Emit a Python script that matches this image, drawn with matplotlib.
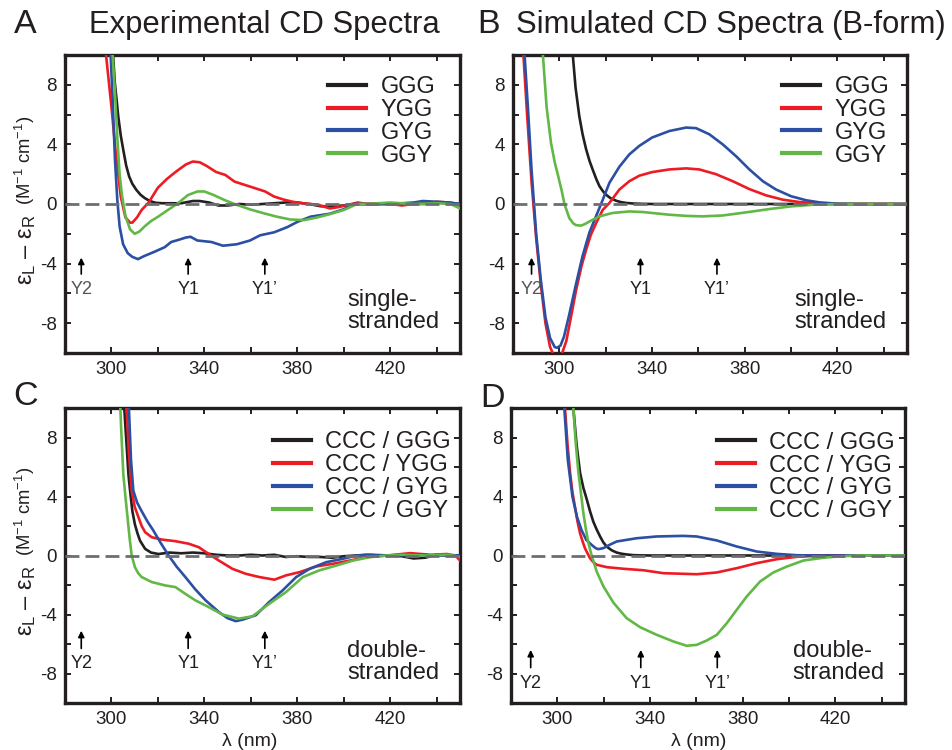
import matplotlib
matplotlib.use("Agg")
import matplotlib.pyplot as plt
from matplotlib.ticker import FixedLocator

plt.rcParams['font.family'] = ['Liberation Sans', 'DejaVu Sans']
plt.rcParams['mathtext.fontset'] = 'custom'
plt.rcParams['mathtext.rm'] = 'Liberation Sans'
plt.rcParams['mathtext.it'] = 'Liberation Sans'
plt.rcParams['axes.unicode_minus'] = False

# ---- data (wavelength nm, delta epsilon) ----
# A: experimental, single-stranded
A_GGG_x = [300, 300.7, 301.4, 302.2, 302.9, 304, 305, 306.3, 307.6, 309, 310.7, 312.5, 314.3, 316.5, 319, 322,
           325, 330, 335, 338, 342, 346, 350, 355, 360, 365, 370, 375, 380, 385, 390, 395, 400, 405, 410, 420,
           430, 440, 445, 450]
A_GGG_y = [12, 10, 8.2, 7.0, 5.9, 4.6, 3.7, 2.6, 1.85, 1.35, 0.95, 0.62, 0.4, 0.2, 0.08, 0.05, 0.05, 0.05, 0.2,
           0.2, 0.1, -0.1, -0.1, 0.0, -0.05, 0.0, 0.05, 0.1, 0.1, 0.0, -0.15, -0.15, -0.1, 0.0, 0.0, 0.0, 0.0, 0.1,
           0.1, 0.0]
A_YGG_x = [297, 298, 300, 302, 304, 306, 308, 309, 311, 313, 316, 320, 324, 328, 332, 335, 338, 341, 345, 349,
           353, 357, 362, 366, 370, 374, 378, 382, 386, 390, 394, 398, 402, 406, 410, 415, 420, 425, 430, 435,
           440, 445, 450]
A_YGG_y = [11, 9.5, 6.5, 3.2, 0.5, -0.9, -1.25, -1.25, -0.9, -0.4, 0.1, 1.1, 1.7, 2.2, 2.65, 2.85, 2.8, 2.55,
           2.15, 1.95, 1.5, 1.3, 1.05, 0.85, 0.5, 0.3, 0.15, 0.05, 0.0, -0.1, -0.3, -0.2, -0.05, 0.1, 0.0, 0.05,
           0.0, -0.1, 0.0, 0.0, 0.15, 0.1, -0.1]
A_GYG_x = [299.5, 300.5, 301.5, 302.5, 303.5, 305, 307, 309, 311.4, 314, 318.6, 322.9, 325.7, 329, 332, 334, 337,
           343, 348, 354, 359.6, 364, 370, 375.7, 380, 385.7, 394, 400, 404, 410, 420, 430, 434, 440, 445, 450]
A_GYG_y = [10.5, 7, 3, 0.3, -1.5, -2.7, -3.3, -3.55, -3.7, -3.5, -3.2, -2.9, -2.55, -2.4, -2.25, -2.2, -2.45,
           -2.55, -2.8, -2.7, -2.45, -2.1, -1.9, -1.55, -1.2, -0.85, -0.65, -0.35, 0.0, 0.0, 0.0, 0.1, 0.2, 0.15,
           0.1, 0.0]
A_GGY_x = [300.3, 301.5, 302.5, 303.5, 304.5, 306, 308, 310, 312, 314.3, 317, 320, 324.3, 328.6, 332.9, 337, 340,
           344, 348.6, 352.9, 359.6, 365.7, 371.4, 377, 382.9, 388.6, 394, 400, 405.7, 410, 415, 420, 425, 430,
           440, 446, 450]
A_GGY_y = [10.5, 7.5, 4.5, 2.0, 0.6, -0.8, -1.7, -2.0, -1.85, -1.5, -1.15, -0.86, -0.4, 0.05, 0.6, 0.84, 0.84,
           0.6, 0.27, 0.0, -0.36, -0.63, -0.86, -1.04, -1.08, -0.9, -0.68, -0.4, 0.0, 0.0, 0.05, 0.1, 0.05, 0.0,
           0.05, 0.0, -0.3]

# B: simulated, single-stranded
B_GGG_x = [304, 305.8, 307, 308.6, 310, 311.5, 313, 314.4, 316, 317.3, 318.7, 320.1, 322, 324.5, 326.5, 328.8,
           332, 336, 340, 450]
B_GGG_y = [13, 10, 7.8, 5.9, 4.7, 3.7, 2.9, 2.3, 1.65, 1.2, 0.88, 0.63, 0.4, 0.22, 0.13, 0.07, 0.03, 0.01, 0.0, 0.0]
B_YGG_x = [283.5, 284.5, 286, 288, 290, 292, 294, 296, 298, 299.5, 301, 303, 305, 307.2, 309.5, 311.5, 313.5,
           315.8, 318.7, 321.6, 325.9, 330.2, 334.5, 340, 347.5, 354.7, 360.4, 367.6, 374.8, 382, 389.2, 396.4,
           403.6, 410.8, 420, 450]
B_YGG_y = [12, 10, 6.2, 1.5, -2.3, -5.4, -8.0, -9.6, -10.3, -10.4, -10.1, -9.2, -7.6, -5.8, -4.2, -3.1, -2.1,
           -1.3, -0.4, 0.07, 0.97, 1.53, 1.9, 2.14, 2.32, 2.39, 2.32, 2.0, 1.53, 1.0, 0.58, 0.29, 0.13, 0.05, 0.0, 0.0]
B_GYG_x = [284, 285, 286.5, 288, 290, 292, 294, 296, 298, 299, 300.5, 302, 304.3, 307, 310, 313, 315.8, 318,
           321.6, 325.9, 330.2, 334.5, 340, 347.5, 354.7, 359, 364.7, 370.5, 376.3, 382, 387.8, 393.5, 400,
           406.5, 412.2, 419.9, 430, 450]
B_GYG_y = [12, 10, 6.3, 2.3, -2.0, -5.1, -7.6, -9.0, -9.6, -9.65, -9.5, -8.9, -7.4, -5.5, -3.5, -1.9, -0.83,
           0.0, 1.42, 2.5, 3.33, 3.9, 4.46, 4.9, 5.13, 5.09, 4.68, 4.0, 3.2, 2.32, 1.53, 0.97, 0.52, 0.25, 0.11,
           0.02, 0.0, 0.0]
B_GGY_x = [292, 293, 294.5, 296.4, 298, 299.3, 301, 302.2, 304.3, 306, 307.2, 309.4, 311, 313, 317.3, 323, 330.2,
           336, 347.5, 355, 361.9, 370.5, 380.6, 390.6, 400, 409.4, 420, 450]
B_GGY_y = [12, 9.8, 6.5, 4.1, 2.8, 2.0, 0.9, 0.0, -0.95, -1.3, -1.42, -1.45, -1.35, -1.17, -0.83, -0.6, -0.5,
           -0.54, -0.72, -0.8, -0.83, -0.77, -0.56, -0.34, -0.16, -0.05, 0.0, 0.0]

# C: experimental, double-stranded
C_GGG_x = [304.5, 305.5, 306.5, 307.3, 308, 309, 310.1, 311.2, 312.3, 314.5, 317, 320.2, 325, 330, 335, 340, 345,
           350, 355, 360, 365, 370, 375, 380, 385, 390, 395, 400, 405, 410, 415, 420, 425, 430, 435, 440, 445, 450]
C_GGG_y = [12, 10, 7.5, 5.5, 4.4, 3.0, 2.1, 1.5, 1.0, 0.45, 0.2, 0.1, 0.2, 0.15, 0.2, 0.15, 0.05, 0.0, 0.0,
           0.05, 0.0, 0.05, -0.1, -0.05, -0.1, -0.1, -0.15, -0.05, 0.0, 0.05, 0.0, 0.0, -0.05, -0.2, -0.15, 0.05,
           0.0, 0.0]
C_YGG_x = [305.5, 306.5, 307.5, 308.7, 310, 311.6, 313, 314.5, 317.3, 321.7, 327.5, 333.2, 337.6, 341.9, 346.2,
           352, 357.8, 363.6, 370.1, 375.1, 380.9, 388.2, 395.4, 402.6, 409.8, 418.5, 428.6, 437.3, 444.5, 448, 450]
C_YGG_y = [12, 10, 7, 4.4, 3.3, 2.6, 2.0, 1.58, 1.24, 1.08, 0.97, 0.8, 0.56, 0.1, -0.34, -0.9, -1.24, -1.46,
           -1.64, -1.35, -1.13, -0.74, -0.56, -0.34, -0.11, 0.0, 0.16, 0.05, 0.1, 0.0, -0.34]
C_GYG_x = [306.5, 307.5, 308.4, 309.4, 311, 313, 315.5, 318, 321, 324.6, 328, 331.8, 336.1, 340.5, 346.2, 350,
           353.5, 356.4, 362.1, 367.9, 373.7, 379.5, 385.3, 392.5, 399.7, 405.5, 412, 420, 430, 440, 450]
C_GYG_y = [12, 10, 6.5, 4.4, 3.6, 3.0, 2.3, 1.7, 0.9, 0.0, -0.75, -1.46, -2.3, -3.04, -3.83, -4.25, -4.45,
           -4.35, -4.05, -3.15, -2.36, -1.46, -0.9, -0.45, -0.22, 0.0, 0.05, 0.0, 0.05, 0.0, 0.0]
C_GGY_x = [303.3, 304.2, 305.1, 306, 306.9, 307.8, 308.7, 310.1, 311.5, 313, 317.3, 323.1, 327.5, 331.8, 336.1,
           341.9, 347.7, 354.9, 360.7, 367.9, 375.1, 382.4, 389.6, 396.8, 404, 411.3, 418.5, 425, 435, 445, 450]
C_GGY_y = [12, 8.5, 5.5, 4.0, 2.6, 1.2, 0.0, -0.79, -1.2, -1.46, -1.8, -2.03, -2.14, -2.6, -3.04, -3.5, -4.0,
           -4.28, -4.12, -3.27, -2.48, -1.46, -1.0, -0.68, -0.34, -0.11, 0.0, 0.05, 0.0, 0.05, -0.1]

# D: simulated, double-stranded
D_GGG_x = [305.5, 306.9, 308.3, 309.8, 311.2, 312.7, 314.1, 315.5, 317, 318.4, 319.8, 321.3, 323.5, 325.6, 327.7,
           329.9, 333, 340, 450]
D_GGG_y = [12.5, 10, 7.5, 5.6, 4.6, 3.8, 3.0, 2.3, 1.75, 1.3, 0.9, 0.6, 0.35, 0.2, 0.12, 0.07, 0.02, 0.0, 0.0]
D_YGG_x = [302.5, 303.3, 304.4, 305.5, 306.5, 307.6, 308.7, 309.8, 310.9, 311.9, 313, 314.1, 315.5, 317, 321.3,
           328.5, 337.1, 345.8, 354.4, 360.1, 368.8, 377.4, 386, 394.7, 403.3, 411.9, 420, 450]
D_YGG_y = [12, 10, 7.5, 5.6, 4.3, 3.3, 2.3, 1.5, 0.95, 0.5, 0.15, -0.18, -0.45, -0.63, -0.79, -0.9, -1.0, -1.2,
           -1.24, -1.27, -1.15, -0.86, -0.52, -0.25, -0.09, -0.02, 0.0, 0.0]
D_GYG_x = [302.2, 303, 304.5, 306.5, 308.5, 310.5, 312.5, 314.8, 316.5, 317.7, 319.9, 322.5, 325.6, 334.2, 342.9,
           354.4, 360.1, 368.8, 377.4, 386, 394.7, 403.3, 410, 450]
D_GYG_y = [12, 10, 6.5, 4.0, 2.6, 1.7, 1.05, 0.72, 0.5, 0.43, 0.5, 0.72, 0.95, 1.17, 1.29, 1.33, 1.29, 1.02,
           0.61, 0.27, 0.11, 0.02, 0.0, 0.0]
D_GGY_x = [305.5, 306.9, 308, 309.1, 310.2, 311.2, 312.3, 313.4, 314.8, 317, 319.9, 324.2, 329.9, 335.7, 342.9,
           350.1, 355.8, 360.1, 364.5, 368.8, 373.1, 377.4, 381.7, 387.5, 393.2, 399, 406.2, 413.4, 420.6, 430, 450]
D_GGY_y = [12.5, 10, 7.5, 5.6, 4.2, 2.9, 1.8, 0.84, 0.0, -1.1, -2.1, -3.2, -4.25, -4.86, -5.38, -5.83, -6.12,
           -6.06, -5.76, -5.38, -4.59, -3.68, -2.78, -1.76, -1.15, -0.75, -0.34, -0.18, -0.07, 0.0, 0.0]

ss_labels = ['GGG', 'YGG', 'GYG', 'GGY']
ds_labels = ['CCC / GGG', 'CCC / YGG', 'CCC / GYG', 'CCC / GGY']
peak_names = ['Y2', 'Y1', 'Y1\u2019']
peaks_A = [287, 333, 366]
peaks_B = [288, 335, 368]
peaks_C = [287, 333, 366]
peaks_D = [288.5, 336, 369]

colors = ['#231f20', '#ed1c24', '#2b4fa3', '#62b846']
ink = '#231f20'

fig = plt.figure(figsize=(9.52, 7.5), dpi=100)
W, H = 952.0, 750.0


def make_ax(l, t, r, b):
    return fig.add_axes([l / W, 1 - b / H, (r - l) / W, (b - t) / H])


axA = make_ax(65, 55, 460, 353)
axB = make_ax(513, 55, 907, 353)
axC = make_ax(65, 408, 460, 703)
axD = make_ax(511, 408, 905, 703)


def draw_panel(ax, series, labels, peaks, arrow_y, note, leg_xy, y2_color):
    for (xs, ys), lab, c in zip(series, labels, colors):
        ax.plot(xs, ys, color=c, lw=1.9, label=lab, zorder=3, solid_joinstyle='round')
    ax.axhline(0, color='#6d6e71', lw=2.0, ls=(0, (5, 2.2)), zorder=4)
    ax.set_xlim(280, 450)
    ax.set_ylim(-10, 10)
    ax.xaxis.set_major_locator(FixedLocator([300, 340, 380, 420]))
    ax.xaxis.set_minor_locator(FixedLocator([320, 360, 400, 440]))
    ax.yaxis.set_major_locator(FixedLocator([-8, -4, 0, 4, 8]))
    ax.yaxis.set_minor_locator(FixedLocator([-6, -2, 2, 6]))
    ax.tick_params(which='both', direction='in', top=True, right=True, length=4.5, width=1.4,
                   color=ink, labelsize=13.5, labelcolor=ink, pad=6)
    for s in ax.spines.values():
        s.set_linewidth(2.4)
        s.set_color(ink)
    lo, hi, ty = arrow_y
    for i, (px, name) in enumerate(zip(peaks, peak_names)):
        ax.annotate('', xy=(px, hi), xytext=(px, lo),
                    arrowprops=dict(arrowstyle='-|>', color='k', lw=1.2, mutation_scale=9,
                                    shrinkA=0, shrinkB=0))
        col = y2_color if i == 0 else ink
        ax.text(px, ty, name, ha='center', va='center', fontsize=13, color=col)
    ax.text(401.5, -7.2, note, ha='left', va='center', fontsize=17, color=ink, linespacing=1.0)
    ax.legend(loc='upper left', bbox_to_anchor=leg_xy, frameon=False, fontsize=17,
              handlelength=1.6, handletextpad=0.62, labelspacing=0.04, borderpad=0, borderaxespad=0,
              labelcolor=ink)
    leg = ax.get_legend()
    for h in leg.get_lines():
        h.set_linewidth(3.0)


draw_panel(axA, [(A_GGG_x, A_GGG_y), (A_YGG_x, A_YGG_y), (A_GYG_x, A_GYG_y), (A_GGY_x, A_GGY_y)],
           ss_labels, peaks_A, (-4.7, -3.6, -5.75), 'single-\nstranded', ((328 - 65) / 395, 0.93), '#555555')
draw_panel(axB, [(B_GGG_x, B_GGG_y), (B_YGG_x, B_YGG_y), (B_GYG_x, B_GYG_y), (B_GGY_x, B_GGY_y)],
           ss_labels, peaks_B, (-4.7, -3.6, -5.75), 'single-\nstranded', ((782 - 513) / 394, 0.93), '#555555')
draw_panel(axC, [(C_GGG_x, C_GGG_y), (C_YGG_x, C_YGG_y), (C_GYG_x, C_GYG_y), (C_GGY_x, C_GGY_y)],
           ds_labels, peaks_C, (-6.3, -5.1, -7.35), 'double-\nstranded', ((273 - 65) / 395, 0.922), ink)
draw_panel(axD, [(D_GGG_x, D_GGG_y), (D_YGG_x, D_YGG_y), (D_GYG_x, D_GYG_y), (D_GGY_x, D_GGY_y)],
           ds_labels, peaks_D, (-7.6, -6.4, -8.65), 'double-\nstranded', ((717 - 511) / 394, 0.92), ink)

# y label in two parts: large epsilons, then the unit in brackets
eps_label = '$\\varepsilon_\\mathregular{L}$ \u2013 $\\varepsilon_\\mathregular{R}$'
unit_label = '(M$^{-1}$ cm$^{-1}$)'
for yc in (0, 351):
    fig.text(27.5 / W, 1 - (250 + yc) / H, eps_label, fontsize=17, rotation=90,
             ha='center', va='center', color=ink)
    fig.text(25 / W, 1 - (160 + yc) / H, unit_label, fontsize=13.3, rotation=90,
             ha='center', va='center', color=ink)

for ax, xc in ((axC, (250 - 65) / 395), (axD, (699 - 511) / 394)):
    ax.set_xlabel('\u03bb (nm)', fontsize=14, color=ink)
    ax.xaxis.set_label_coords(xc, -0.1)

fig.text(25 / W, 1 - 33 / H, 'A', fontsize=24.5, ha='center', va='baseline', color=ink)
fig.text(89 / W, 1 - 33 / H, 'Experimental CD Spectra', fontsize=22.3, ha='left', va='baseline', color=ink)
fig.text(489 / W, 1 - 33 / H, 'B', fontsize=24.5, ha='center', va='baseline', color=ink)
fig.text(516 / W, 1 - 33 / H, 'Simulated CD Spectra (B-form)', fontsize=22.3, ha='left', va='baseline',
         color=ink)
fig.text(26 / W, 1 - 405 / H, 'C', fontsize=24.5, ha='center', va='baseline', color=ink)
fig.text(492 / W, 1 - 407 / H, 'D', fontsize=24.5, ha='center', va='baseline', color=ink)

fig.savefig('out.png', dpi=100)
